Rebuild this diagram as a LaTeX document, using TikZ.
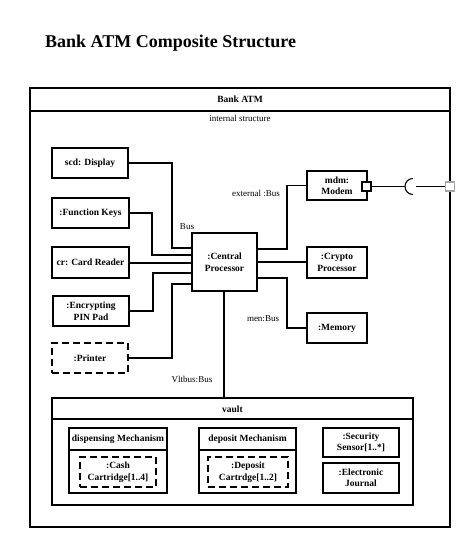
\documentclass[tikz,border=0pt]{standalone}
\usepackage{fontspec}
\setmainfont{Liberation Serif}
\begin{document}
\begin{tikzpicture}[x=1pt,y=-1pt,
  box/.style={draw, line width=1.1pt, inner sep=0pt, outer sep=0pt, anchor=north west,
    font=\fontsize{9.5}{11.5}\selectfont\bfseries, align=center},
  dbox/.style={box, dash pattern=on 7pt off 4pt},
  frame/.style={draw, line width=1.1pt, inner sep=0pt, outer sep=0pt, anchor=north west},
  ttl/.style={font=\fontsize{9.5}{11.5}\selectfont\bfseries, inner sep=0pt, align=center},
  lbl/.style={font=\fontsize{9}{11}\selectfont, inner sep=0pt},
  conn/.style={line width=1.1pt},
  port/.style={draw, line width=1.1pt, fill=white, minimum size=9pt, inner sep=0pt}]
\useasboundingbox (0,0) rectangle (474,547);

\node[anchor=west, inner sep=0pt, font=\fontsize{18}{20}\selectfont\bfseries] (title) at (45,43) {Bank ATM Composite Structure};

% outer frame
\node[frame, minimum width=420pt, minimum height=439pt] (atm) at (30,88) {};
\draw[conn] (30,111) -- (450,111);
\node[ttl] (atmt) at (240,99.5) {Bank ATM};
\node[lbl] (istr) at (240,118) {internal structure};

% left parts
\node[box, minimum width=76pt, minimum height=30pt] (disp) at (52,148) {scd: Display};
\node[box, minimum width=77pt, minimum height=30pt] (fkeys) at (52,198) {:Function Keys};
\node[box, minimum width=77pt, minimum height=31pt] (card) at (52,247) {cr: Card Reader};
\node[box, minimum width=76pt, minimum height=30pt] (pin) at (53,296) {:Encrypting\\PIN Pad};
\node[dbox, minimum width=76pt, minimum height=30pt] (prn) at (52,343) {:Printer};

% central processor
\node[box, minimum width=65pt, minimum height=58pt] (cp) at (192,233) {:Central\\Processor};

% right parts
\node[box, minimum width=60pt, minimum height=29pt] (modem) at (307,171) {mdm:\\Modem};
\node[box, minimum width=60pt, minimum height=31pt] (crypto) at (307,247) {:Crypto\\Processor};
\node[box, minimum width=60pt, minimum height=30pt] (mem) at (307,313) {:Memory};

% ports
\node[port] (mport) at (366.5,186.5) {};
\node[port, draw=gray!70] (fport) at (450,186.5) {};
\coordinate (sockL) at (405,186.5);
\coordinate (sockR) at (416,186.5);
\draw[conn] (mport.east) -- (sockL);
\draw[conn] (413,178.5) arc[start angle=90, end angle=270, radius=8pt];
\draw[conn] (sockR) -- (fport.west);

% connectors left
\draw[conn] (disp.east) -| (172,248) -- (cp.west |- 0,248);
\draw[conn] (fkeys.east) -| (152,255) -- (cp.west |- 0,255);
\draw[conn] (card.east |- 0,263) -- (cp.west |- 0,263);
\draw[conn] (pin.east) -| (153,273) -- (cp.west |- 0,273);
\draw[conn] (prn.east) -| (172,284) -- (cp.west |- 0,284);

% connectors right
\draw[conn] (modem.west) -| (287,249) -- (cp.east |- 0,249);
\draw[conn] (cp.east |- 0,262) -- (crypto.west |- 0,262);
\draw[conn] (cp.east |- 0,278) -| (287,328) -- (mem.west |- 0,328);

% labels
\node[lbl] (lbus) at (187,227) {Bus};
\node[lbl] (lext) at (256,193) {external :Bus};
\node[lbl] (lmen) at (263,319) {men:Bus};
\node[lbl] (lvlt) at (192,379) {Vltbus:Bus};

% vault
\node[frame, minimum width=361pt, minimum height=107pt] (vault) at (52,398) {};
\draw[conn] (52,419) -- (413,419);
\node[ttl] (vaultt) at (232.5,409) {vault};
\draw[conn] (cp.south -| 224,0) -- (vault.north -| 224,0);

% dispensing mechanism
\node[frame, minimum width=98pt, minimum height=65pt] (dism) at (69,428) {};
\draw[conn] (69,450) -- (167,450);
\node[ttl] (dismt) at (118,439) {dispensing Mechanism};
\node[dbox, minimum width=76pt, minimum height=30pt] (cash) at (80,457) {:Cash\\Cartridge[1..4]};

% deposit mechanism
\node[frame, minimum width=97pt, minimum height=65pt] (depm) at (199,428) {};
\draw[conn] (199,450) -- (296,450);
\node[ttl] (depmt) at (247.5,439) {deposit Mechanism};
\node[dbox, minimum width=80pt, minimum height=30pt] (depc) at (208,457) {:Deposit\\Cartrdge[1..2]};

% security / journal
\node[box, minimum width=76pt, minimum height=29pt] (sec) at (323,428) {:Security\\Sensor[1..*]};
\node[box, minimum width=76pt, minimum height=30pt] (jrn) at (323,463) {:Electronic\\Journal};
\end{tikzpicture}
\end{document}
